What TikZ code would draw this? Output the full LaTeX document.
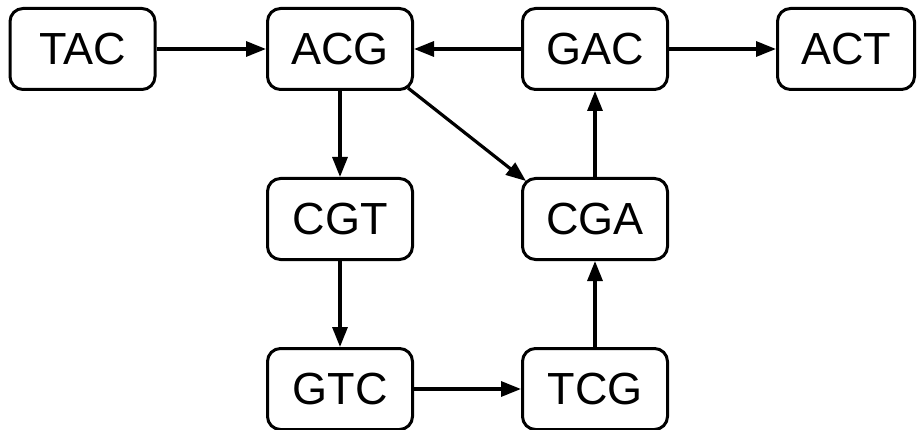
\documentclass[tikz,border=0pt]{standalone}
\usepackage{fontspec}
\setmainfont{Liberation Sans}
\usetikzlibrary{arrows.meta}
\begin{document}
\begin{tikzpicture}[x=1pt,y=-1pt,
  kbox/.style={draw=black, line width=3pt, rounded corners=13pt, minimum width=145pt, minimum height=81pt, inner sep=0pt, font=\fontsize{45}{45}\selectfont},
  arr/.style={line width=3.2pt, -{Triangle[length=20pt,width=15pt]}}]
\useasboundingbox (0,0) rectangle (917,430);
\fill[white] (0,0) rectangle (917,430);
\node[kbox] (TAC) at (82.5,49) {TAC};
\node[kbox] (ACG) at (340,49) {ACG};
\node[kbox] (GAC) at (595,49) {GAC};
\node[kbox, minimum width=137pt] (ACT) at (846,49) {ACT};
\node[kbox] (CGT) at (340,219) {CGT};
\node[kbox] (CGA) at (595,219) {CGA};
\node[kbox] (GTC) at (340,389) {GTC};
\node[kbox] (TCG) at (595,389) {TCG};
\draw[arr] (TAC) -- (ACG);
\draw[arr] (GAC) -- (ACG);
\draw[arr] (GAC) -- (ACT);
\draw[arr] (ACG) -- (CGT);
\draw[arr] ([xshift=-6pt,yshift=3pt]ACG.south east) -- ([xshift=5pt,yshift=-4pt]CGA.north west);
\draw[arr] (CGA) -- (GAC);
\draw[arr] (CGT) -- (GTC);
\draw[arr] (GTC) -- (TCG);
\draw[arr] (TCG) -- (CGA);
\end{tikzpicture}
\end{document}
